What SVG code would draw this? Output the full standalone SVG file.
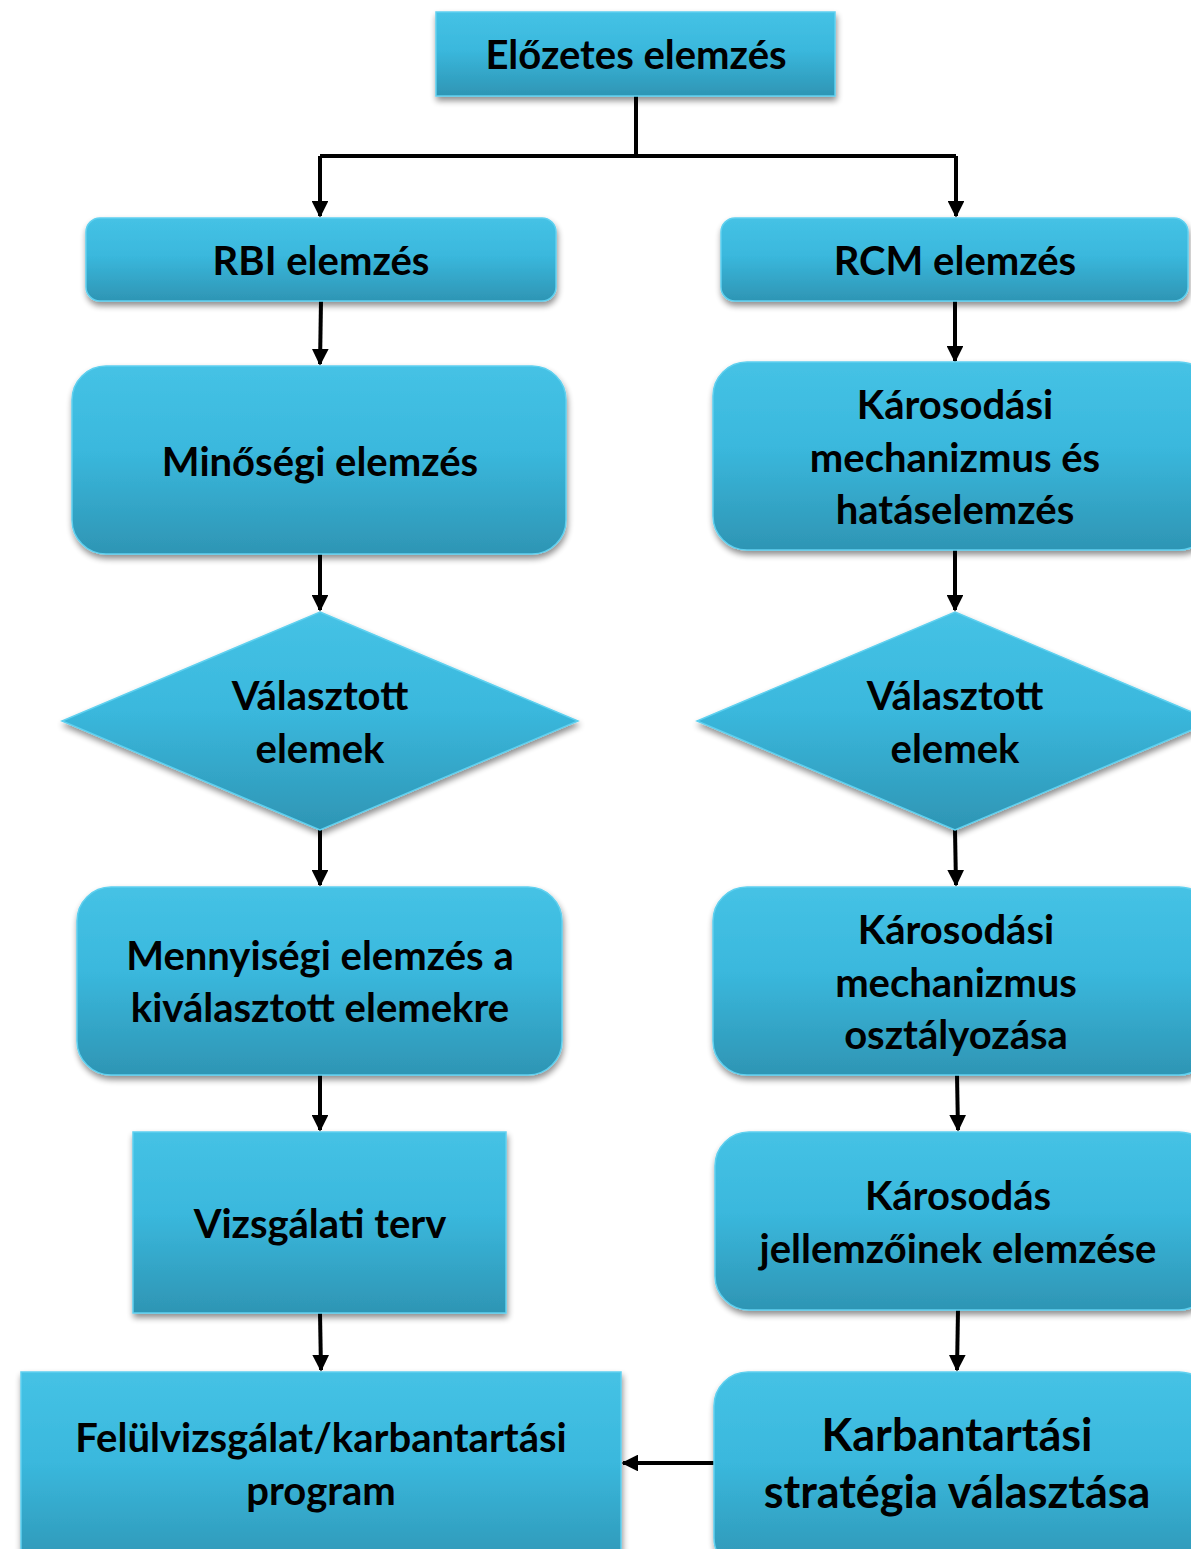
<svg xmlns="http://www.w3.org/2000/svg" width="1191" height="1549" viewBox="0 0 1191 1549">
<defs>
<linearGradient id="g" x1="0" y1="0" x2="0" y2="1">
<stop offset="0" stop-color="#45c2e5"/>
<stop offset="0.45" stop-color="#3ab8dd"/>
<stop offset="1" stop-color="#2e95b4"/>
</linearGradient>
<filter id="sh" x="-10%" y="-10%" width="120%" height="130%">
<feGaussianBlur in="SourceAlpha" stdDeviation="3"/>
<feOffset dx="1" dy="4" result="b"/>
<feComponentTransfer><feFuncA type="linear" slope="0.45"/></feComponentTransfer>
<feMerge><feMergeNode/><feMergeNode in="SourceGraphic"/></feMerge>
</filter>
<marker id="ah" viewBox="0 0 10 10" refX="9" refY="5" markerWidth="4.2" markerHeight="4.2" orient="auto" markerUnits="strokeWidth">
<path d="M0,0 L10,5 L0,10 z" fill="#000"/>
</marker>
</defs>
<style>
.n{fill:url(#g);stroke:#5fd0ef;stroke-width:1.5;filter:url(#sh)}
.t{font-family:Lato,"Open Sans","Liberation Sans",sans-serif;font-weight:bold;font-size:40px;fill:#000;text-anchor:middle}
.c{fill:none;stroke:#000;stroke-width:4}
</style>
<g id="connectors">
<path class="c" d="M636,96 V156"/>
<path class="c" d="M320,156 H956"/>
<path class="c" d="M320,156 V216" marker-end="url(#ah)"/>
<path class="c" d="M956,156 V216" marker-end="url(#ah)"/>
<path class="c" d="M321,301 L320,364" marker-end="url(#ah)"/>
<path class="c" d="M955,301 V361" marker-end="url(#ah)"/>
<path class="c" d="M320,554 V610" marker-end="url(#ah)"/>
<path class="c" d="M955,550 V610" marker-end="url(#ah)"/>
<path class="c" d="M320,830 V885" marker-end="url(#ah)"/>
<path class="c" d="M955,830 L956,885" marker-end="url(#ah)"/>
<path class="c" d="M320,1075 V1130" marker-end="url(#ah)"/>
<path class="c" d="M957,1075 L958,1130" marker-end="url(#ah)"/>
<path class="c" d="M320,1313 L321,1370" marker-end="url(#ah)"/>
<path class="c" d="M958,1310 L957,1370" marker-end="url(#ah)"/>
<path class="c" d="M714,1463 H623" marker-end="url(#ah)"/>
</g>
<g id="n1">
<rect class="n" x="436" y="12" width="399" height="84"/>
<text class="t" x="636" y="69">Előzetes elemzés</text>
</g>
<g id="n2">
<rect class="n" x="86" y="218" width="470" height="83" rx="14"/>
<text class="t" x="321" y="275">RBI elemzés</text>
</g>
<g id="n3">
<rect class="n" x="721" y="218" width="467" height="83" rx="14"/>
<text class="t" x="955" y="275">RCM elemzés</text>
</g>
<g id="n4">
<rect class="n" x="72" y="366" width="494" height="188" rx="34"/>
<text class="t" x="320" y="476">Minőségi elemzés</text>
</g>
<g id="n5">
<rect class="n" x="713" y="362" width="500" height="188" rx="34"/>
<text class="t" x="955" y="419">Károsodási</text>
<text class="t" x="955" y="472">mechanizmus és</text>
<text class="t" x="955" y="524">hatáselemzés</text>
</g>
<g id="n6">
<polygon class="n" points="320,612 578,721 320,830 62,721"/>
<text class="t" x="320" y="710">Választott</text>
<text class="t" x="320" y="763">elemek</text>
</g>
<g id="n7">
<polygon class="n" points="955,612 1213,721 955,830 697,721"/>
<text class="t" x="955" y="710">Választott</text>
<text class="t" x="955" y="763">elemek</text>
</g>
<g id="n8">
<rect class="n" x="77" y="887" width="485" height="188" rx="34"/>
<text class="t" x="320" y="970">Mennyiségi elemzés a</text>
<text class="t" x="320" y="1022">kiválasztott elemekre</text>
</g>
<g id="n9">
<rect class="n" x="713" y="887" width="500" height="188" rx="34"/>
<text class="t" x="956" y="944">Károsodási</text>
<text class="t" x="956" y="997">mechanizmus</text>
<text class="t" x="956" y="1049">osztályozása</text>
</g>
<g id="n10">
<rect class="n" x="133" y="1132" width="373" height="181"/>
<text class="t" x="320" y="1238">Vizsgálati terv</text>
</g>
<g id="n11">
<rect class="n" x="715" y="1132" width="498" height="178" rx="34"/>
<text class="t" x="958" y="1210">Károsodás</text>
<text class="t" x="958" y="1263">jellemzőinek elemzése</text>
</g>
<g id="n12">
<rect class="n" x="21" y="1372" width="600" height="200"/>
<text class="t" x="321" y="1452">Felülvizsgálat/karbantartási</text>
<text class="t" x="321" y="1505">program</text>
</g>
<g id="n13">
<rect class="n" x="714" y="1372" width="499" height="200" rx="34"/>
<text class="t" x="957" y="1451" style="font-size:45px">Karbantartási</text>
<text class="t" x="957" y="1508" style="font-size:45px">stratégia választása</text>
</g>
</svg>
